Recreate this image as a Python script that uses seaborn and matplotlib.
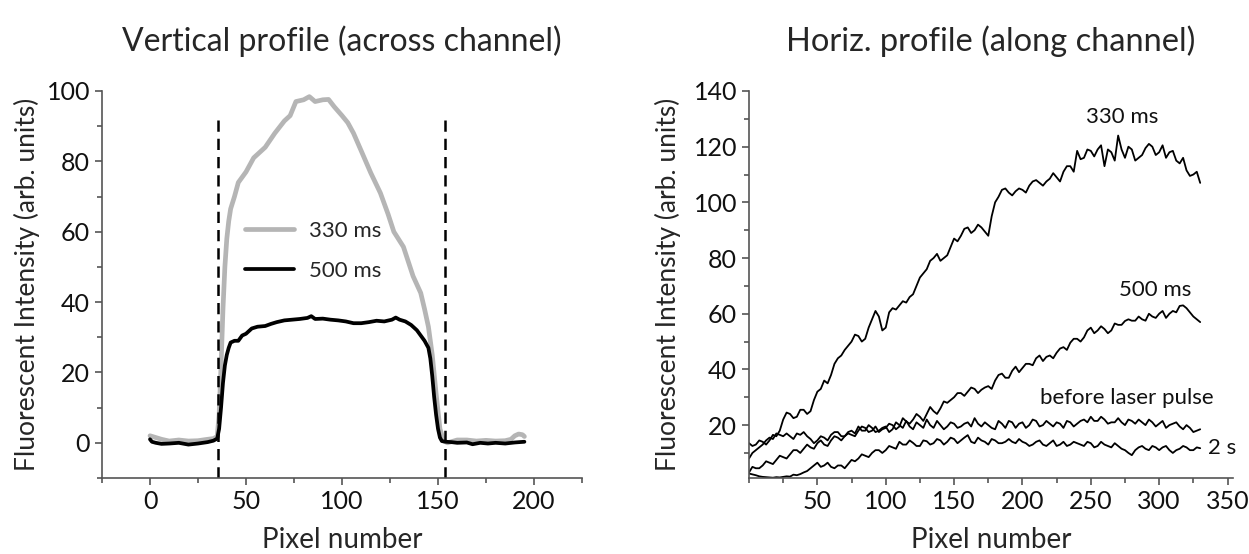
import numpy as np
import pandas as pd
import seaborn as sns
import matplotlib.pyplot as plt
from matplotlib.ticker import MultipleLocator

# ---- left panel: vertical profile (across channel) ----
v_x_330 = [0, 3, 6, 10, 15, 20, 25, 30, 33, 35, 36, 37, 38, 39, 40, 41, 42, 44, 46,
           50, 54, 57, 60, 65, 70, 73, 76, 80, 83, 86, 90, 93, 96, 100, 103, 106,
           110, 115, 120, 124, 127, 132, 137, 141, 143, 145, 147, 149, 151, 153,
           155, 160, 165, 170, 175, 180, 185, 188, 190, 192, 194, 195]
v_y_330 = [2.0, 1.5, 1.0, 0.5, 0.8, 0.5, 0.6, 1.0, 1.2, 1.8, 8, 22, 38, 50, 58, 63, 66.5, 70, 74,
           77, 81, 82.5, 84, 88, 91.5, 93, 97, 97.5, 98.4, 97, 97.5, 97.6, 95.5, 93, 91, 88,
           83, 76.7, 71, 65, 60, 55.7, 47.4, 42.6, 38, 33, 25, 14, 4, 0.5,
           0.0, 0.8, 0.8, 0.5, 0.7, 0.5, 0.6, 1.0, 2.0, 2.5, 2.3, 1.8]

v_x_500 = [0, 1, 3, 6, 10, 15, 20, 25, 30, 33, 35, 36, 37, 38, 39, 40, 41, 42, 44, 46, 48,
           50, 53, 56, 60, 63, 66, 70, 74, 78, 82, 84, 86, 90, 94, 98, 102, 106, 110,
           114, 118, 122, 126, 128, 130, 133, 136, 139, 141, 143, 145, 146, 147, 148,
           149, 150, 151, 152, 154, 157, 160, 165, 168, 172, 176, 180, 185, 190, 195]
v_y_500 = [1.0, 0.3, 0.0, -0.3, -0.2, 0.0, -0.5, -0.2, 0.2, 0.6, 1.2, 4, 10, 17, 22, 25, 27,
           28.5, 29, 29, 30.5, 31, 32.5, 33, 33.2, 33.8, 34.3, 34.8, 35, 35.2, 35.5, 36,
           35.2, 35.3, 35, 34.8, 34.5, 34, 34, 34.3, 34.7, 34.5, 35, 35.6, 35, 34.5, 33.5,
           32, 30.5, 29, 27, 24, 19, 13, 8, 4, 1.5, 0.5, 0.3, 0.2, 0.0, 0.1, -0.4, 0.0,
           -0.2, 0.0, -0.2, 0.1, 0.3]

channel_edges = [35.5, 153.5]

# ---- right panel: horizontal profile (along channel) ----
# values every 5 px plus the in-between points (x + 2.5) to keep the noise
h_x = list(range(0, 331, 5))
h_x_mid = [x + 2.5 for x in range(0, 330, 5)]

h_330 = [13.5, 13, 14, 14.5, 16, 22, 24, 23, 25.5, 25, 32, 36, 38, 44, 47, 50, 52, 51,
         58, 59, 55, 62, 63, 64, 67, 73, 76, 80, 79, 81, 87, 88, 91, 90, 91, 88, 100,
         104.5, 103.5, 104, 104.5, 106, 108, 106, 108.5, 109, 111, 113, 118.5, 116,
         118.5, 119, 113, 118, 124, 116, 119, 116, 119.5, 120, 118, 116, 118.5, 114,
         111.5, 110, 107]
h_330_mid = [12.5, 14.5, 13, 16.5, 18, 24.5, 22.5, 25.5, 24, 29, 33, 35, 42, 45, 48.5,
             52.5, 50, 55, 61, 54, 60.5, 61.5, 64.5, 66, 70, 74.5, 79, 81.5, 80, 84, 86,
             90.5, 89, 92, 89.5, 95, 102, 105, 102.5, 105, 103.5, 107.5, 107, 107.5, 110.5,
             107.5, 113, 111, 115.5, 119, 116.5, 120.5, 119, 115, 119, 120, 115, 117, 121,
             117, 120.5, 118, 115, 116, 109.5, 111]

h_500 = [3, 4.5, 5.5, 6.5, 7.5, 8.5, 9.5, 11, 11.5, 12, 13.5, 13, 14.5, 15.5, 16, 16.5,
         18, 19, 18, 17.5, 19, 20, 19.5, 21.3, 22, 23, 24, 25, 26, 28, 30, 31.5, 32, 33,
         32.7, 34, 36, 38.5, 37, 41, 40.5, 42, 44, 43, 45, 46, 48, 49.6, 51, 51.5, 55,
         54, 54.5, 54, 56, 57.4, 57.5, 59, 57.5, 59, 60, 58.5, 61, 62.8, 62, 59, 57]
h_500_mid = [5, 4.5, 7, 6, 9, 8, 11, 10, 13, 11.5, 14.5, 12.5, 16, 14.5, 17, 16, 19.5,
             17.5, 19.5, 18.5, 20.5, 18.5, 22.5, 20.5, 24, 21.5, 26.5, 24, 28.5, 29, 31.5,
             30.5, 33.5, 31.5, 33.5, 33, 38, 37, 39.5, 39, 42, 41.5, 45, 44.5, 44, 47.5,
             47, 51, 50, 54, 53, 55.5, 53, 56.5, 56, 58, 57.5, 58, 60, 58.5, 61, 60, 60.5,
             63, 60.5, 58]

h_before = [8, 11, 13, 15.5, 17, 16, 16, 17, 17.5, 15, 14.5, 15.5, 16.5, 17.5, 16, 18,
            19.5, 18, 19, 18, 19.5, 18.5, 20, 21.5, 18.5, 20, 22, 19, 20, 19.5, 20.5,
            19.5, 21, 22.5, 19.5, 20, 18.5, 20.5, 21.5, 19, 21, 20, 21.5, 20, 20.5, 21,
            19, 21, 20.5, 22, 23, 21.5, 22, 21, 22.5, 20, 21.5, 22, 20, 21, 20.5, 19,
            20.5, 19.5, 20, 17.5, 18.5]
h_before_mid = [10, 12, 14.5, 15, 16.5, 17, 15, 16.5, 16, 13.5, 16, 14.5, 17.5, 16, 17.5,
                17, 18, 20, 17.5, 19, 17.5, 21, 19, 19.5, 21, 19, 20, 21.5, 18.5, 21, 19,
                20.5, 19.5, 20.5, 21, 19, 21.5, 19, 21, 20.5, 19, 22, 19.5, 21.5, 19.5,
                20.5, 21.5, 19.5, 21.5, 21, 21.5, 23, 20.5, 21, 21, 22, 20.5, 21, 22, 19.5,
                21.5, 20, 21, 18.5, 19, 18]

h_2s = [2.6, 2.0, 1.4, 1.2, 1.3, 1.4, 1.5, 2.0, 3.0, 4.5, 6.5, 5.5, 5.0, 5.5, 4.5, 7.5,
        8, 9, 10, 11, 11, 12, 14, 13, 13.6, 12.5, 14.2, 13.5, 14.5, 14, 15, 14.5, 16.4,
        13.5, 14.5, 13, 14.5, 13.5, 15, 13.5, 14, 12.5, 14, 13, 13.5, 12.5, 14, 13,
        13.5, 12.5, 13.5, 12.5, 13, 12, 12.5, 11, 9.2, 12, 11.5, 12.5, 11, 12.5, 10,
        11.5, 12, 11, 11.7]
h_2s_mid = [2.3, 1.6, 1.3, 1.1, 1.2, 1.6, 2.2, 2.4, 3.5, 5.5, 5, 6.5, 4.5, 5.5, 6, 7,
            9.5, 8.5, 11, 10, 12.5, 11.5, 13, 14.5, 12.5, 14.5, 13, 15, 13, 15.5, 13.5,
            15.5, 14, 15.5, 14, 15, 13.5, 14, 14, 15, 13.5, 13, 14.5, 12.5, 14.5, 13,
            12.5, 14, 13, 14, 12, 14, 12.5, 13.5, 11.5, 10, 11, 12.5, 11, 12, 12, 11, 11,
            12.5, 11, 12]

h_labels = ['330 ms', '500 ms', 'before laser pulse', '2 s']
h_label_x = [272.6, 296.8, 276, 336]
h_label_y = [130.7, 68.6, 29.8, 11.9]

sns.set_style("ticks")
plt.rcParams['font.family'] = ['Lato', 'DejaVu Sans']
axis_col = '#555555'
plt.rcParams.update({
    'axes.edgecolor': axis_col, 'axes.linewidth': 1.2,
    'xtick.color': axis_col, 'ytick.color': axis_col,
    'xtick.labelcolor': '#111111', 'ytick.labelcolor': '#111111',
    'xtick.direction': 'out', 'ytick.direction': 'out',
    'xtick.major.size': 5, 'ytick.major.size': 5,
    'xtick.minor.size': 3.5, 'ytick.minor.size': 3.5,
    'xtick.major.width': 1.2, 'ytick.major.width': 1.2,
    'xtick.minor.width': 1.2, 'ytick.minor.width': 1.2,
})

fig = plt.figure(figsize=(12.49, 5.54), dpi=100)
ax1 = fig.add_axes([102 / 1249, 1 - 478 / 554, 480 / 1249, 387 / 554])
ax2 = fig.add_axes([749 / 1249, 1 - 478 / 554, 484 / 1249, 387 / 554])

df330 = pd.DataFrame({'x': v_x_330, 'y': v_y_330})
df500 = pd.DataFrame({'x': v_x_500, 'y': v_y_500})
sns.lineplot(data=df330, x='x', y='y', ax=ax1, color='#b5b5b5', lw=3.4,
             label='330 ms', sort=False, estimator=None)
sns.lineplot(data=df500, x='x', y='y', ax=ax1, color='black', lw=2.7,
             label='500 ms', sort=False, estimator=None)
for xe in channel_edges:
    ax1.plot([xe, xe], [-10, 92], color='black', lw=1.8, ls=(0, (4.5, 2.8)))

ax1.set_xlim(-25, 225)
ax1.set_ylim(-10, 100)
ax1.xaxis.set_minor_locator(MultipleLocator(25))
ax1.yaxis.set_minor_locator(MultipleLocator(10))
ax1.set_xticks([0, 50, 100, 150, 200])
ax1.set_yticks([0, 20, 40, 60, 80, 100])
ax1.tick_params(labelsize=18)
ax1.set_title('Vertical profile (across channel)', fontsize=23, pad=29)
ax1.set_xlabel('Pixel number', fontsize=20, labelpad=10)
ax1.set_ylabel('Fluorescent Intensity (arb. units)', fontsize=19, labelpad=5)
ax1.legend(loc='upper left', bbox_to_anchor=(0.298, 0.665), frameon=False,
           fontsize=16, handlelength=2.2, handletextpad=0.7, labelspacing=0.9,
           borderpad=0, borderaxespad=0)

frames = []
for lab, grid, mid in zip(h_labels, [h_330, h_500, h_before, h_2s],
                          [h_330_mid, h_500_mid, h_before_mid, h_2s_mid]):
    part = pd.DataFrame({'x': h_x + h_x_mid, 'y': grid + mid})
    part['time'] = lab
    frames.append(part.sort_values('x'))
hdf = pd.concat(frames, ignore_index=True)

sns.lineplot(data=hdf, x='x', y='y', hue='time', ax=ax2, palette=['black'] * 4,
             lw=1.3, legend=False, sort=False, estimator=None)
for lab, tx, ty in zip(h_labels, h_label_x, h_label_y):
    ha = 'left' if lab == '2 s' else 'center'
    ax2.text(tx, ty, lab, fontsize=16, ha=ha, va='center', color='#111111')

ax2.set_xlim(0, 354)
ax2.set_ylim(1, 140)
ax2.set_xticks([50, 100, 150, 200, 250, 300, 350])
ax2.set_yticks([20, 40, 60, 80, 100, 120, 140])
ax2.xaxis.set_minor_locator(MultipleLocator(25))
ax2.yaxis.set_minor_locator(MultipleLocator(10))
ax2.tick_params(labelsize=18)
ax2.set_title('Horiz. profile (along channel)', fontsize=23.5, pad=29)
ax2.set_xlabel('Pixel number', fontsize=20, labelpad=10)
ax2.set_ylabel('Fluorescent Intensity (arb. units)', fontsize=19, labelpad=9)

sns.despine(fig)
fig.savefig('out.png', dpi=100)
